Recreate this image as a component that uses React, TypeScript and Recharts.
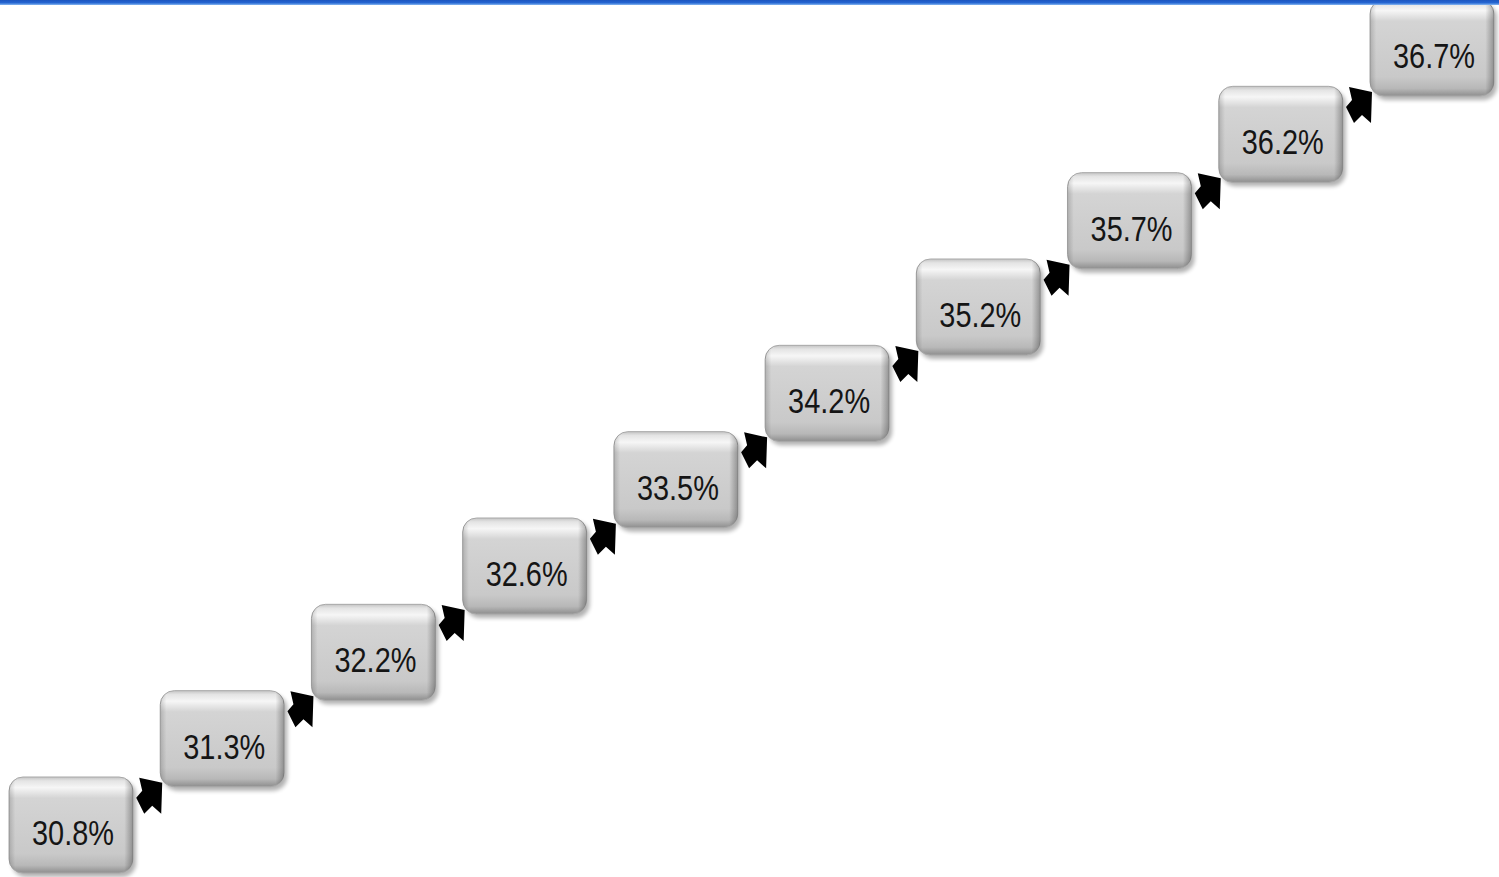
import { ScatterChart, Scatter, XAxis, YAxis } from "recharts";

// share per step, bottom-left to top-right
const labels = ["30.8%", "31.3%", "32.2%", "32.6%", "33.5%", "34.2%", "35.2%", "35.7%", "36.2%", "36.7%"];
const shares = [30.8, 31.3, 32.2, 32.6, 33.5, 34.2, 35.2, 35.7, 36.2, 36.7];

const data = labels.map((label, i) => ({ label, share: shares[i] }));

// little ↗ block arrow, centred on 0,0
const ARROW = "-10,-18 13,-13 12,18 3,10 -5,18 -13,2 -7,-5";

function StepBox(props: any) {
    const { cx, cy, payload } = props;
    if (cx == null || cy == null) return null;
    const i = labels.indexOf(payload.label);
    return (
        <g>
            {i > 0 && (
                <polygon transform={`translate(${cx - 75},${cy + 50})`} points={ARROW} fill="#000" />
            )}
            <g transform={`translate(${cx},${cy})`}>
                <rect x={-61} y={-51} width={124} height={96} rx={14} fill="#000" opacity={0.3} filter="url(#boxShadow)" />
                <rect x={-64} y={-55} width={124} height={96} rx={14} fill="url(#boxV)" stroke="#a8a8a8" strokeWidth={1} />
                <rect x={-64} y={-55} width={124} height={96} rx={14} fill="url(#boxH)" />
                <text
                    x={0}
                    y={13}
                    textAnchor="middle"
                    fontFamily="'Liberation Sans Narrow', 'Liberation Sans', Arial, sans-serif"
                    fontSize={35}
                    fill="#151515"
                    textLength={82}
                    lengthAdjust="spacingAndGlyphs"
                >
                    {payload.label}
                </text>
            </g>
        </g>
    );
}

export default function App() {
    return (
        <div style={{ position: "absolute", left: 0, top: 0, width: 1499, height: 877, background: "#fff", overflow: "hidden" }}>
            <ScatterChart width={1499} height={877} margin={{ top: 0, right: 0, bottom: 0, left: 0 }}>
                <defs>
                    <linearGradient id="boxV" x1="0" y1="0" x2="0" y2="1">
                        <stop offset="0%" stopColor="#c4c4c4" />
                        <stop offset="4%" stopColor="#e4e4e4" />
                        <stop offset="11%" stopColor="#f6f6f6" />
                        <stop offset="22%" stopColor="#d4d4d4" />
                        <stop offset="80%" stopColor="#c9c9c9" />
                        <stop offset="92%" stopColor="#b8b8b8" />
                        <stop offset="100%" stopColor="#8e8e8e" />
                    </linearGradient>
                    <linearGradient id="boxH" x1="0" y1="0" x2="1" y2="0">
                        <stop offset="0%" stopColor="#000" stopOpacity={0.16} />
                        <stop offset="5%" stopColor="#000" stopOpacity={0} />
                        <stop offset="93%" stopColor="#000" stopOpacity={0} />
                        <stop offset="100%" stopColor="#000" stopOpacity={0.3} />
                    </linearGradient>
                    <filter id="boxShadow" x="-20%" y="-20%" width="140%" height="140%">
                        <feGaussianBlur stdDeviation="2" />
                    </filter>
                </defs>
                <XAxis dataKey="label" type="category" scale="point" padding={{ left: 73, right: 65 }} hide allowDuplicatedCategory={false} />
                <YAxis dataKey="label" type="category" scale="point" padding={{ top: 55, bottom: 45 }} hide allowDuplicatedCategory={false} width={0} />
                <Scatter data={data} shape={<StepBox />} isAnimationActive={false} />
            </ScatterChart>
            <div
                style={{
                    position: "absolute", left: 0, top: 0, width: 1499, height: 5,
                    background: "linear-gradient(#1c55bf 0%, #2566d2 55%, #86b6f0 100%)",
                }}
            />
        </div>
    );
}
